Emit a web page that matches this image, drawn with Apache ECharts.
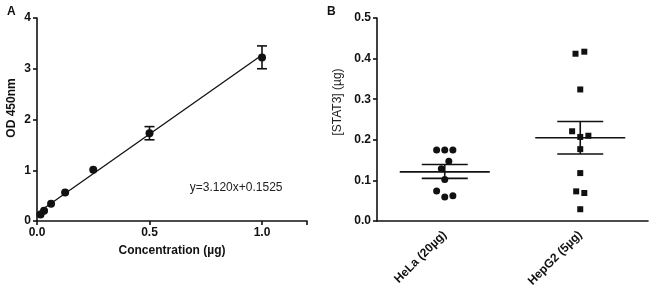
<!DOCTYPE html>
<html>
<head>
<meta charset="utf-8">
<script src="https://cdn.jsdelivr.net/npm/echarts@6/dist/echarts.min.js"></script>
<style>
  html, body { margin: 0; padding: 0; background: #fff; }
  #chart { width: 650px; height: 295px; }
</style>
</head>
<body>
<div id="chart"></div>
<script>
// panel A - standard curve
var concX = [0.015625, 0.03125, 0.0625, 0.125, 0.25, 0.5, 1.0];
var odY = [0.13, 0.2, 0.34, 0.56, 1.01, 1.73, 3.22];
var odLow = [0.13, 0.2, 0.34, 0.56, 1.01, 1.60, 3.00];
var odHigh = [0.13, 0.2, 0.34, 0.56, 1.01, 1.86, 3.45];
var fitX = [0, 1.0];
var fitY = [0.1525, 3.2725];
var fitText = 'y=3.120x+0.1525';

// panel B - STAT3 amounts
var groups = ['HeLa (20µg)', 'HepG2 (5µg)'];
var helaVals = [0.175, 0.175, 0.175, 0.147, 0.129, 0.102, 0.074, 0.059, 0.062];
var helaJitter = [-0.06, 0, 0.06, 0.03, -0.025, 0, -0.06, 0, 0.06];
var hepVals = [0.412, 0.417, 0.324, 0.221, 0.207, 0.21, 0.177, 0.118, 0.073, 0.069, 0.029];
var hepJitter = [-0.035, 0.03, 0, -0.06, 0, 0.06, 0, 0, -0.03, 0.03, 0];
var groupMean = [0.121, 0.205];
var groupSemLow = [0.105, 0.165];
var groupSemHigh = [0.139, 0.245];

var chart = echarts.init(document.getElementById('chart'), null, { renderer: 'canvas' });

var axisFont = { color: '#111', fontFamily: 'Liberation Sans', fontWeight: 'bold', fontSize: 12 };
var lineStyle = { color: '#111', width: 1.6 };

function pairs(xs, ys) {
    return xs.map(function (x, i) { return [x, ys[i]]; });
}

var option = {
    animation: false,
    backgroundColor: '#fff',
    title: [
        { text: 'A', left: 2, top: 1, textStyle: { fontSize: 12, fontWeight: 'bold', color: '#111', fontFamily: 'Liberation Sans' } },
        { text: 'B', left: 322, top: 1, textStyle: { fontSize: 12, fontWeight: 'bold', color: '#111', fontFamily: 'Liberation Sans' } }
    ],
    // rotated axis titles sit a bit above the grid middle in the original
    graphic: [
        {
            type: 'text', x: 6, y: 108, rotation: Math.PI / 2,
            style: { text: 'OD 450nm', fill: '#111', font: 'bold 12px "Liberation Sans"', align: 'center', verticalAlign: 'top' }
        },
        {
            type: 'text', x: 332, y: 102, rotation: Math.PI / 2,
            style: { text: '[STAT3] (µg)', fill: '#222', font: '12px "Liberation Sans"', align: 'center', verticalAlign: 'top' }
        }
    ],
    grid: [
        { left: 37, top: 18, width: 270, height: 203 },
        { left: 377, top: 18, width: 271, height: 203 }
    ],
    xAxis: [
        {
            gridIndex: 0, type: 'value', min: 0, max: 1.2, interval: 0.5,
            name: 'Concentration (µg)', nameLocation: 'middle', nameGap: 24,
            nameTextStyle: Object.assign({}, axisFont, { fontSize: 12 }),
            splitLine: { show: false },
            axisLine: { lineStyle: lineStyle },
            axisTick: { length: 4, lineStyle: lineStyle },
            axisLabel: Object.assign({}, axisFont, {
                margin: 6,
                formatter: function (v) { return v > 1.1 ? '' : v.toFixed(1); }
            })
        },
        {
            gridIndex: 1, type: 'category', data: groups, boundaryGap: true,
            axisLine: { lineStyle: lineStyle },
            axisTick: { alignWithLabel: true, length: 4, lineStyle: lineStyle },
            axisLabel: Object.assign({}, axisFont, { rotate: 45, margin: 12 })
        },
        {
            gridIndex: 1, type: 'value', min: 0, max: 2, show: false
        }
    ],
    yAxis: [
        {
            gridIndex: 0, type: 'value', min: 0, max: 4, interval: 1,
            splitLine: { show: false },
            axisLine: { lineStyle: lineStyle },
            axisTick: { length: 4, lineStyle: lineStyle },
            axisLabel: Object.assign({}, axisFont, { margin: 6 })
        },
        {
            gridIndex: 1, type: 'value', min: 0, max: 0.5, interval: 0.1,
            splitLine: { show: false },
            axisLine: { lineStyle: lineStyle },
            axisTick: { length: 4, lineStyle: lineStyle },
            axisLabel: Object.assign({}, axisFont, {
                margin: 6,
                formatter: function (v) { return v.toFixed(1); }
            })
        }
    ],
    series: [
        {
            type: 'line', xAxisIndex: 0, yAxisIndex: 0,
            data: pairs(fitX, fitY), symbol: 'none',
            lineStyle: { color: '#111', width: 1.3 }, z: 2
        },
        {
            type: 'custom', xAxisIndex: 0, yAxisIndex: 0,
            data: concX.map(function (x, i) { return [x, odLow[i], odHigh[i]]; }),
            renderItem: function (params, api) {
                if (api.value(1) === api.value(2)) return null;
                var lo = api.coord([api.value(0), api.value(1)]);
                var hi = api.coord([api.value(0), api.value(2)]);
                var cap = 5;
                var st = { stroke: '#111', lineWidth: 1.6 };
                return {
                    type: 'group',
                    children: [
                        { type: 'line', shape: { x1: lo[0], y1: lo[1], x2: hi[0], y2: hi[1] }, style: st },
                        { type: 'line', shape: { x1: lo[0] - cap, y1: lo[1], x2: lo[0] + cap, y2: lo[1] }, style: st },
                        { type: 'line', shape: { x1: hi[0] - cap, y1: hi[1], x2: hi[0] + cap, y2: hi[1] }, style: st }
                    ]
                };
            },
            z: 3
        },
        {
            type: 'scatter', xAxisIndex: 0, yAxisIndex: 0,
            data: pairs(concX, odY), symbol: 'circle', symbolSize: 8,
            itemStyle: { color: '#111', opacity: 1 }, z: 4,
            markPoint: {
                symbol: 'rect', symbolSize: 1, itemStyle: { color: 'transparent' },
                label: {
                    show: true, formatter: fitText, color: '#222',
                    fontFamily: 'Liberation Sans', fontSize: 12
                },
                data: [{ coord: [0.885, 0.65] }]
            }
        },
        {
            type: 'scatter', xAxisIndex: 2, yAxisIndex: 1,
            data: helaVals.map(function (v, i) { return [0.5 + helaJitter[i], v]; }),
            symbol: 'circle', symbolSize: 7, itemStyle: { color: '#111', opacity: 1 }
        },
        {
            type: 'scatter', xAxisIndex: 2, yAxisIndex: 1,
            data: hepVals.map(function (v, i) { return [1.5 + hepJitter[i], v]; }),
            symbol: 'rect', symbolSize: 6, itemStyle: { color: '#111', opacity: 1 }
        },
        {
            type: 'custom', xAxisIndex: 2, yAxisIndex: 1,
            data: groupMean.map(function (m, i) { return [0.5 + i, m, groupSemLow[i], groupSemHigh[i]]; }),
            renderItem: function (params, api) {
                var x = api.value(0);
                var mean = api.coord([x, api.value(1)]);
                var lo = api.coord([x, api.value(2)]);
                var hi = api.coord([x, api.value(3)]);
                var half = 45, semHalf = 23;
                var st = { stroke: '#111', lineWidth: 1.6 };
                return {
                    type: 'group',
                    children: [
                        { type: 'line', shape: { x1: mean[0] - half, y1: mean[1], x2: mean[0] + half, y2: mean[1] }, style: st },
                        { type: 'line', shape: { x1: lo[0], y1: lo[1], x2: hi[0], y2: hi[1] }, style: st },
                        { type: 'line', shape: { x1: lo[0] - semHalf, y1: lo[1], x2: lo[0] + semHalf, y2: lo[1] }, style: st },
                        { type: 'line', shape: { x1: hi[0] - semHalf, y1: hi[1], x2: hi[0] + semHalf, y2: hi[1] }, style: st }
                    ]
                };
            },
            z: 5
        }
    ]
};

chart.setOption(option);
window.addEventListener('resize', function () {
    chart.resize();
});
</script>
</body>
</html>
